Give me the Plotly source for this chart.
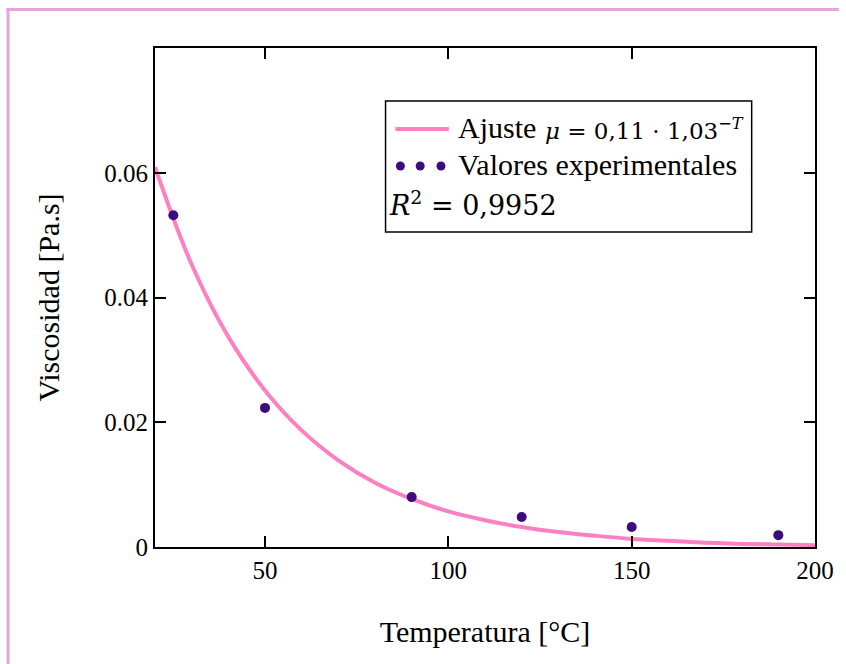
import plotly.graph_objects as go

# ---- data ----
temp_exp = [25, 50, 90, 120, 150, 190]
visc_exp = [0.0532, 0.0223, 0.0080, 0.0048, 0.0032, 0.0019]

temp_fit = [20, 30, 40, 50, 60, 70, 80, 90, 100, 110, 120, 130, 140, 150, 160, 170, 180, 190, 200]
visc_fit = [0.0609, 0.0453, 0.0337, 0.0251, 0.0187, 0.0139, 0.0103, 0.0077, 0.0057, 0.0043,
            0.0032, 0.0024, 0.0018, 0.0013, 0.0010, 0.0007, 0.0005, 0.0004, 0.0003]

x_ticks = [50, 100, 150, 200]
y_ticks = [0, 0.02, 0.04, 0.06]
y_tick_text = ["0", "0.02", "0.04", "0.06"]

PINK = "#FF7FC3"
PURPLE = "#3E0A80"
FRAME = "#E6A3DD"
SERIF = "Liberation Serif, Times New Roman, serif"
MATH = "DejaVu Serif, Liberation Serif, serif"

W, H = 846, 664
L, R, T, B = 155, 24, 48, 117
PW, PH = W - L - R, H - T - B


def px(x):
    return (x - L) / PW


def py(y):
    return (H - B - y) / PH


fig = go.Figure()
fig.add_trace(go.Scatter(x=temp_fit, y=visc_fit, mode="lines",
                         line=dict(color=PINK, width=4, shape="spline"),
                         showlegend=False, hoverinfo="skip"))
fig.add_trace(go.Scatter(x=temp_exp, y=visc_exp, mode="markers",
                         marker=dict(color=PURPLE, size=10),
                         showlegend=False))

axis_common = dict(showgrid=False, zeroline=False, showline=True, linecolor="black",
                   linewidth=2, mirror="ticks", ticks="inside", ticklen=11,
                   tickwidth=1.5, tickcolor="black",
                   tickfont=dict(family=SERIF, size=25, color="black"))

fig.update_xaxes(range=[20, 200], tickvals=x_ticks,
                 title=dict(text="Temperatura [°C]", font=dict(family=SERIF, size=30, color="black"),
                            standoff=38),
                 **axis_common)
fig.update_yaxes(range=[0, 0.08], tickvals=y_ticks, ticktext=y_tick_text,
                 title=dict(text="Viscosidad [Pa.s]", font=dict(family=SERIF, size=30, color="black"),
                            standoff=36),
                 **axis_common)

shapes = []
# pink outer frame
shapes.append(dict(type="line", xref="paper", yref="paper", x0=px(5), x1=px(846), y0=py(9.5), y1=py(9.5),
                   line=dict(color=FRAME, width=3)))
shapes.append(dict(type="line", xref="paper", yref="paper", x0=px(6.5), x1=px(6.5), y0=py(8), y1=py(664),
                   line=dict(color=FRAME, width=3)))
# legend box
shapes.append(dict(type="rect", xref="paper", yref="paper", x0=px(388), x1=px(758), y0=py(232), y1=py(101),
                   line=dict(color="black", width=1.5), fillcolor="white", layer="above"))
# legend line sample
shapes.append(dict(type="line", xref="paper", yref="paper", x0=px(398), x1=px(452), y0=py(129), y1=py(129),
                   line=dict(color=PINK, width=4), layer="above"))
# legend dots
for cx in [403, 423, 444]:
    shapes.append(dict(type="circle", xref="paper", yref="paper", xsizemode="pixel", ysizemode="pixel",
                       xanchor=px(cx), yanchor=py(166), x0=-4.5, x1=4.5, y0=-4.5, y1=4.5,
                       fillcolor=PURPLE, line=dict(color=PURPLE, width=0), layer="above"))

annotations = [
    dict(text="Ajuste", x=px(459), y=py(127), xref="paper", yref="paper", xanchor="left", yanchor="middle",
         showarrow=False, font=dict(family=SERIF, size=30, color="black")),
    dict(text="<i>μ</i> = 0,11 · 1,03<sup>−<i>T</i></sup>", x=px(547), y=py(129), xref="paper", yref="paper",
         xanchor="left", yanchor="middle", showarrow=False,
         font=dict(family=MATH, size=23, color="black")),
    dict(text="Valores experimentales", x=px(459), y=py(164), xref="paper", yref="paper", xanchor="left",
         yanchor="middle", showarrow=False, font=dict(family=SERIF, size=30, color="black")),
    dict(text="<i>R</i><sup>2</sup> = 0,9952", x=px(389), y=py(203), xref="paper", yref="paper", xanchor="left",
         yanchor="middle", showarrow=False, font=dict(family=MATH, size=27, color="black")),
]

fig.update_layout(width=W, height=H, margin=dict(l=L, r=R, t=T, b=B),
                  paper_bgcolor="white", plot_bgcolor="white",
                  shapes=shapes, annotations=annotations, showlegend=False)

fig.write_html("out.html")
